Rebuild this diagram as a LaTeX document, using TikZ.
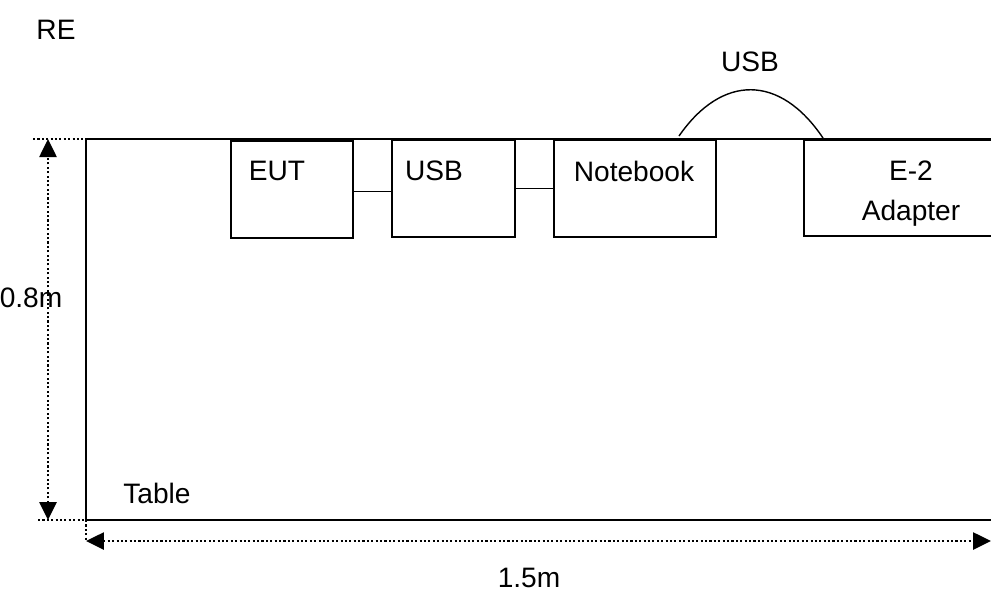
\documentclass[tikz,border=0pt]{standalone}
\usepackage{fontspec}
\setmainfont{Liberation Sans}
\usetikzlibrary{arrows.meta,positioning,calc}
\tikzset{
  devbox/.style={draw, line width=1.1pt, anchor=north west, inner sep=0pt,
                 minimum height=1.94cm},
  txt/.style={font=\fontsize{16}{18}\selectfont, inner sep=0pt},
  wire/.style={line width=0.8pt},
  dimline/.style={line width=1.5pt, dash pattern=on 1.2pt off 1.3pt},
  dimarrow/.style={dimline, {Triangle[length=3.6mm,width=3.4mm]}-{Triangle[length=3.6mm,width=3.4mm]}}
}

\begin{document}
\begin{tikzpicture}[x=0.02cm, y=-0.02cm]
  \useasboundingbox (0,0) rectangle (991,593);
  % table outline
  \coordinate (tl) at (86,139);
  \coordinate (bl) at (86,520);
  \coordinate (tr) at (993,139);
  \coordinate (br) at (993,520);
  \draw[line width=1.3pt] (tr) -- (tl) -- (bl) -- (br);
  % devices on the table
  \node[devbox, minimum width=2.44cm] (eut) at (230,140) {};
  \node[devbox, minimum width=2.46cm] (usbhub) at (391,139) {};
  \node[devbox, minimum width=3.24cm] (nb) at (553,139) {};
  \node[devbox, minimum width=3.9cm, minimum height=1.92cm] (adp) at (803,139) {};
  \node[txt] (eutlbl) at (277,171) {EUT};
  \node[txt] (usblbl) at (434,171) {USB};
  \node[txt] (nblbl) at (634,171) {Notebook};
  \node[txt] (adplbl) at (911,171) {E-2};
  \node[txt, below=0.84cm of adplbl.center, anchor=center] (adplbl2) {Adapter};
  % cables
  \coordinate (eutport) at ($(eut.east)+(0,2)$);
  \draw[wire] (eutport) -- (eutport -| usbhub.west);
  \draw[wire] (usbhub.east) -- (usbhub.east -| nb.west);
  \coordinate (cabA) at (679,136);
  \coordinate (cabB) at (823,138);
  \draw[wire] (cabA) .. controls (722,74) and (780,74) .. (cabB);
  \node[txt] (cablbl) at (750,62) {USB};
  % dimensions
  \coordinate (htop) at (48,139);
  \coordinate (hbot) at (48,520);
  \draw[dimline] (33,139) -- (tl);
  \draw[dimline] (38,520) -- (bl);
  \draw[dimarrow] (hbot) -- (htop);
  \node[txt] (hlbl) at (31,298) {0.8m};
  \coordinate (wl) at (86,541);
  \coordinate (wr) at (991,541);
  \draw[dimline] (bl) -- (wl);
  \draw[dimarrow] (wl) -- (wr);
  \node[txt] (wlbl) at (529,578) {1.5m};
  % captions
  \node[txt] (tbl) at (157,493) {Table};
  \node[txt] (re) at (56,30) {RE};
\end{tikzpicture}
\end{document}
